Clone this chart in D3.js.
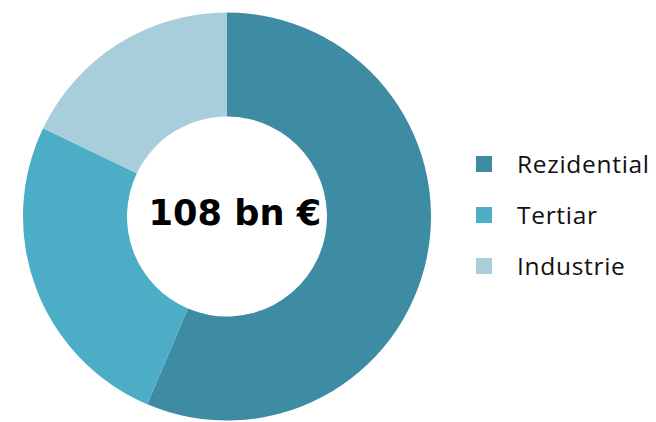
<!DOCTYPE html>
<html>
<head>
<meta charset="utf-8">
<script src="https://cdn.jsdelivr.net/npm/d3@7"></script>
<style>
  html, body { margin: 0; padding: 0; background: #ffffff; }
  svg { display: block; }
</style>
</head>
<body>
<svg id="chart" width="656" height="422"></svg>
<script>
const categories = ["Rezidential", "Tertiar", "Industrie"];
const values = [60.9, 27.8, 19.3];
const colors = ["#3d8ca3", "#4badc6", "#a8cddb"];
const centerLabel = "108 bn €";

const svg = d3.select("#chart");
const cx = 227, cy = 216.5;
const outerR = 204, innerR = 100;

const pie = d3.pie().sort(null).value(d => d.value);
const arc = d3.arc().innerRadius(innerR).outerRadius(outerR);
const data = categories.map((c, i) => ({ name: c, value: values[i] }));
const color = d3.scaleOrdinal().domain(categories).range(colors);

const g = svg.append("g").attr("transform", `translate(${cx},${cy})`);
g.selectAll("path")
  .data(pie(data))
  .join("path")
  .attr("d", arc)
  .attr("fill", d => color(d.data.name));

svg.append("text")
  .attr("x", 148.5)
  .attr("y", 224.5)
  .attr("font-family", "DejaVu Sans, Verdana, sans-serif")
  .attr("font-weight", "bold")
  .attr("font-size", 35.2)
  .attr("fill", "#000")
  .text(centerLabel);

const legend = svg.append("g").attr("transform", "translate(476,156)");
const item = legend.selectAll("g")
  .data(categories)
  .join("g")
  .attr("transform", (d, i) => `translate(0,${i * 51})`);
item.append("rect")
  .attr("width", 16).attr("height", 16)
  .attr("fill", d => color(d));
item.append("text")
  .attr("x", 41)
  .attr("y", 17)
  .attr("font-family", "Open Sans, sans-serif")
  .attr("font-size", 24.5)
  .attr("letter-spacing", 0.7)
  .attr("fill", "#111")
  .text(d => d);
</script>
</body>
</html>
